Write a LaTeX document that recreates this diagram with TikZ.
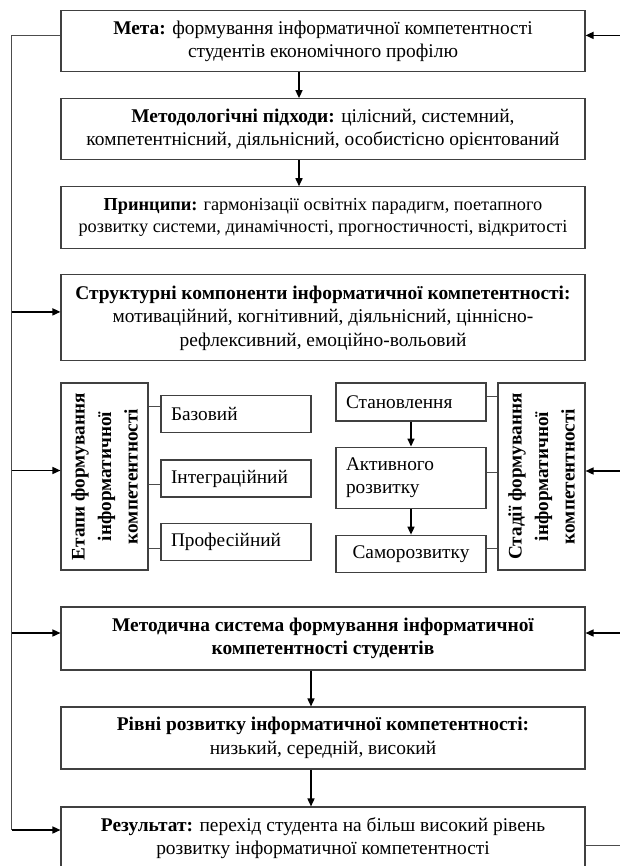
\documentclass[tikz,border=0pt]{standalone}
\usepackage{fontspec}
\setmainfont{Liberation Serif}
\usetikzlibrary{positioning,arrows.meta}

\begin{document}
\begin{tikzpicture}[x=1pt, y=1pt,
>={Triangle[length=8pt,width=7pt]},
mainnode/.style={rectangle, draw=black!75, line width=1.1pt, minimum width=524pt, minimum height=61pt, align=center, inner sep=3pt, font=\fontsize{19.4}{23.5}\selectfont},
sidenode/.style={rectangle, draw=black!75, line width=1.1pt, minimum width=187pt, minimum height=87pt, rotate=90, align=center, inner sep=2pt, font=\fontsize{19.2}{26.5}\selectfont\bfseries},
stagenode/.style={rectangle, draw=black!75, line width=1.1pt, minimum width=150pt, minimum height=37pt, text width=130pt, align=left, inner xsep=10pt, font=\fontsize{19.3}{23.5}\selectfont},
arrowline/.style={->, line width=1.5pt},
thinline/.style={draw=black!70, line width=1pt},
]
\useasboundingbox (0,0) rectangle (620,-866);
%Nodes
\node[mainnode]      (Goal)       at (323,-41.4)               {\textbf{Мета:} формування інформатичної компетентності\\студентів економічного профілю};
\node[mainnode]      (Approach)   [below=25.7pt of Goal]        {\textbf{Методологічні підходи:} цілісний, системний,\\компетентнісний, діяльнісний, особистісно орієнтований};
\node[mainnode, minimum height=62pt, font=\fontsize{18.3}{22}\selectfont] (Principles) [below=26pt of Approach] {\textbf{Принципи:} гармонізації освітніх парадигм, поетапного\\розвитку системи, динамічності, прогностичності, відкритості};
\node[mainnode, minimum height=86pt] (Struct) [below=25pt of Principles] {\textbf{Структурні компоненти інформатичної компетентності:}\\мотиваційний, когнітивний, діяльнісний, ціннісно-\\рефлексивний, емоційно-вольовий};

\node[sidenode]      (Etapy)      at (104.5,-476.5)            {Етапи формування\\інформатичної\\компетентності};
\node[stagenode]     (Base)       at (236,-414.4)              {Базовий};
\node[stagenode]     (Integr)     [below=26pt of Base]         {Інтеграційний};
\node[stagenode]     (Prof)       [below=25pt of Integr]       {Професійний};

\node[stagenode, minimum height=38pt] (Stanovl) at (411,-402) {Становлення};
\node[stagenode, minimum height=61pt] (Active)  [below=25pt of Stanovl] {Активного\\розвитку};
\node[stagenode, align=center] (Selfdev) [below=26pt of Active] {Саморозвитку};
\node[sidenode]      (Stadii)     at (541.5,-476.5)            {Стадії формування\\інформатичної\\компетентності};

\node[mainnode, minimum height=63pt, font=\fontsize{19.4}{23.5}\selectfont\bfseries] (Method) at (323,-638.5) {Методична система формування інформатичної\\компетентності студентів};
\node[mainnode, minimum height=62pt] (Levels)  at (323,-738)  {\textbf{Рівні розвитку інформатичної компетентності:}\\низький, середній, високий};
\node[mainnode, minimum height=62pt] (Result)  at (323,-838)  {\textbf{Результат:} перехід студента на більш високий рівень\\розвитку інформатичної компетентності};

\coordinate (backL) at (11.7,-830);
\coordinate (backR) at (620,-35);

%Lines
\draw[arrowline] ([xshift=-24pt]Goal.south) -- ([xshift=-24pt]Approach.north);
\draw[arrowline] ([xshift=-24pt]Approach.south) -- ([xshift=-24pt]Principles.north);
\draw[arrowline] ([xshift=-12pt]Method.south) -- ([xshift=-12pt]Levels.north);
\draw[arrowline] ([xshift=-12pt]Levels.south) -- ([xshift=-12pt]Result.north);
\draw[arrowline] (Stanovl.south) -- (Active.north);
\draw[arrowline] (Active.south) -- (Selfdev.north);

\draw[thinline] ([yshift=7.5pt]Base.west) -- ([yshift=7.5pt]Base.west -| Etapy.south);
\draw[thinline] ([yshift=-5.5pt]Integr.west) -- ([yshift=-5.5pt]Integr.west -| Etapy.south);
\draw[thinline] ([yshift=-7pt]Prof.west) -- ([yshift=-7pt]Prof.west -| Etapy.south);
\draw[thinline] ([yshift=6pt]Stanovl.east) -- ([yshift=6pt]Stanovl.east -| Stadii.north);
\draw[thinline] ([yshift=5.5pt]Active.east) -- ([yshift=5.5pt]Active.east -| Stadii.north);
\draw[thinline] ([yshift=5.5pt]Selfdev.east) -- ([yshift=5.5pt]Selfdev.east -| Stadii.north);

\draw[thinline] ([yshift=6pt]Goal.west) -| (backL);
\draw[arrowline] (backL) -- ([yshift=8pt]Result.west);
\draw[arrowline] ([yshift=6pt]Struct.west -| backL) -- ([yshift=6pt]Struct.west);
\draw[arrowline] ([yshift=6pt]Etapy.north -| backL) -- ([yshift=6pt]Etapy.north);
\draw[arrowline] ([yshift=5.5pt]Method.west -| backL) -- ([yshift=5.5pt]Method.west);

\draw[arrowline] ([yshift=6pt]Goal.east -| backR) -- ([yshift=6pt]Goal.east);
\draw[arrowline] ([yshift=5.5pt]Stadii.south -| backR) -- ([yshift=5.5pt]Stadii.south);
\draw[arrowline] ([yshift=5.5pt]Method.east -| backR) -- ([yshift=5.5pt]Method.east);
\draw[thinline] ([yshift=-7pt]Result.east) -- ([yshift=-7pt]Result.east -| backR);
\end{tikzpicture}
\end{document}
